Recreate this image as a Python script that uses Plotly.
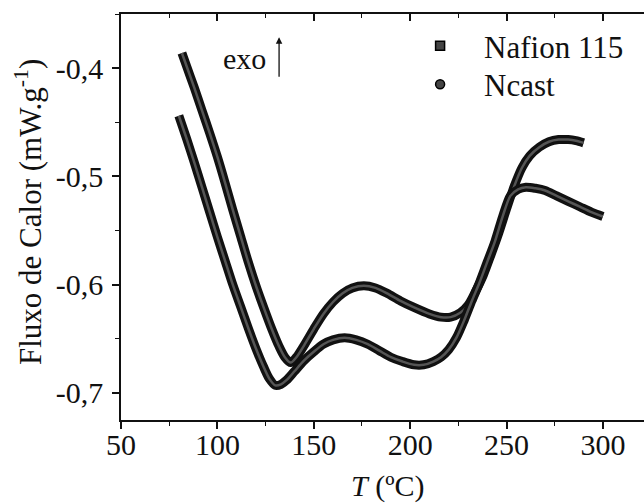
import plotly.graph_objects as go

# Nafion 115 DSC curve
naf_T = [81.6, 84, 88, 92, 96, 100, 104, 108, 112, 116, 120, 124, 128, 132, 135, 138, 141, 145,
         150, 155, 160, 165, 170, 176, 182, 188, 195, 202, 210, 216, 221, 226, 230, 234, 238, 242,
         246, 250, 254, 258, 262, 267, 272, 277, 282, 286, 290]
naf_Q = [-0.386, -0.398, -0.418, -0.439, -0.460, -0.482, -0.506, -0.531, -0.555, -0.579, -0.601,
         -0.621, -0.640, -0.657, -0.667, -0.672, -0.667, -0.656, -0.641, -0.627, -0.616, -0.608,
         -0.603, -0.601, -0.603, -0.608, -0.615, -0.621, -0.627, -0.630, -0.630, -0.626, -0.619,
         -0.606, -0.591, -0.572, -0.552, -0.530, -0.509, -0.492, -0.481, -0.473, -0.468, -0.466,
         -0.466, -0.467, -0.469]

# Ncast DSC curve
nc_T = [80, 84, 88, 92, 96, 100, 104, 108, 112, 116, 120, 124, 127, 130, 133, 136, 140, 145, 150,
        155, 160, 166, 172, 178, 184, 190, 196, 202, 207, 212, 216, 220, 224, 228, 232, 236, 240,
        244, 248, 252, 256, 260, 265, 270, 276, 282, 288, 294, 300]
nc_Q = [-0.444, -0.465, -0.487, -0.510, -0.533, -0.556, -0.578, -0.600, -0.620, -0.640, -0.659,
        -0.676, -0.687, -0.693, -0.692, -0.688, -0.680, -0.670, -0.662, -0.655, -0.651, -0.649,
        -0.651, -0.655, -0.661, -0.667, -0.671, -0.674, -0.674, -0.671, -0.667, -0.660, -0.649,
        -0.633, -0.615, -0.598, -0.579, -0.560, -0.537, -0.518, -0.512, -0.510, -0.511, -0.513,
        -0.518, -0.523, -0.528, -0.533, -0.537]

x_ticks = [50, 100, 150, 200, 250, 300]
y_ticks = [-0.4, -0.5, -0.6, -0.7]
y_ticktext = ["-0,4", "-0,5", "-0,6", "-0,7"]
series_names = ["Nafion 115", "Ncast"]

FONT = "Liberation Serif"
INK = "#111111"

fig = go.Figure()
for T, Q in [(naf_T, naf_Q), (nc_T, nc_Q)]:
    fig.add_trace(go.Scatter(x=T, y=Q, mode="lines", line=dict(color=INK, width=9, shape="spline", smoothing=0.8),
                             showlegend=False, hoverinfo="skip"))
    fig.add_trace(go.Scatter(x=T, y=Q, mode="lines", line=dict(color="#555555", width=2.5, shape="spline", smoothing=0.8),
                             showlegend=False, hoverinfo="skip"))

for name, sym, lg in zip(series_names, ["square", "circle"], ["legend", "legend2"]):
    fig.add_trace(go.Scatter(x=[None], y=[None], mode="markers", name=name, legend=lg,
                             marker=dict(symbol=sym, size=9, color="#444444",
                                         line=dict(color="#000000", width=1.5))))

# dummy for top axis
fig.add_trace(go.Scatter(x=[None], y=[None], xaxis="x2", showlegend=False, hoverinfo="skip"))

axis_font = dict(family=FONT, size=30, color=INK)
legend_common = dict(xanchor="left", yanchor="middle", bgcolor="rgba(0,0,0,0)",
                     font=dict(family=FONT, size=31, color=INK), itemwidth=78)
fig.update_layout(
    width=644, height=504,
    margin=dict(l=121, r=0, t=14, b=84),
    paper_bgcolor="white", plot_bgcolor="white",
    font=dict(family=FONT, size=30, color=INK),
    xaxis=dict(range=[50, 321.3], tickvals=x_ticks, ticks="outside", ticklen=7, tickwidth=1.5,
               tickcolor=INK, showline=True, linecolor=INK, linewidth=1.5, showgrid=False,
               zeroline=False, tickfont=axis_font, ticklabelstandoff=-10,
               minor=dict(dtick=25, tick0=50, ticks="outside", ticklen=4, tickcolor=INK, tickwidth=1.2)),
    xaxis2=dict(range=[50, 321.3], overlaying="x", side="top", tickvals=x_ticks, ticks="inside",
                ticklen=7, tickwidth=1.5, tickcolor=INK, showline=True, linecolor=INK,
                linewidth=1.5, showgrid=False, zeroline=False, showticklabels=False,
                minor=dict(dtick=25, tick0=50, ticks="inside", ticklen=4, tickcolor=INK, tickwidth=1.2)),
    yaxis=dict(range=[-0.725, -0.35], tickvals=y_ticks, ticktext=y_ticktext, ticks="outside",
               ticklen=7, tickwidth=1.5, tickcolor=INK, showline=True, linecolor=INK,
               linewidth=1.5, showgrid=False, zeroline=False, tickfont=axis_font, ticklabelstandoff=3,
               minor=dict(dtick=0.05, tick0=-0.45, ticks="outside", ticklen=4, tickcolor=INK, tickwidth=1.2)),
    legend=dict(x=0.526, y=0.921, **legend_common),
    legend2=dict(x=0.526, y=0.826, **legend_common),
    showlegend=True,
)

fig.add_annotation(text="exo", x=114.3, y=-0.3908, xref="x", yref="y", showarrow=False,
                   font=dict(family=FONT, size=30, color=INK))
fig.add_annotation(text="", x=132, y=-0.3714, xref="x", yref="y", ax=0, ay=41, showarrow=True,
                   arrowhead=2, arrowsize=1, arrowwidth=1.3, arrowcolor=INK)
fig.add_annotation(text="<i>T</i> (ºC)", x=0.509, y=-0.162, xref="paper", yref="paper",
                   showarrow=False, yanchor="middle", font=dict(family=FONT, size=30, color=INK))
fig.add_annotation(text="Fluxo de Calor (mW.g<sup>-1</sup>)", x=-0.178, y=0.512, xref="paper",
                   yref="paper", showarrow=False, textangle=-90, xanchor="center", yanchor="middle",
                   font=dict(family=FONT, size=31, color=INK))

fig.write_html("out.html")
